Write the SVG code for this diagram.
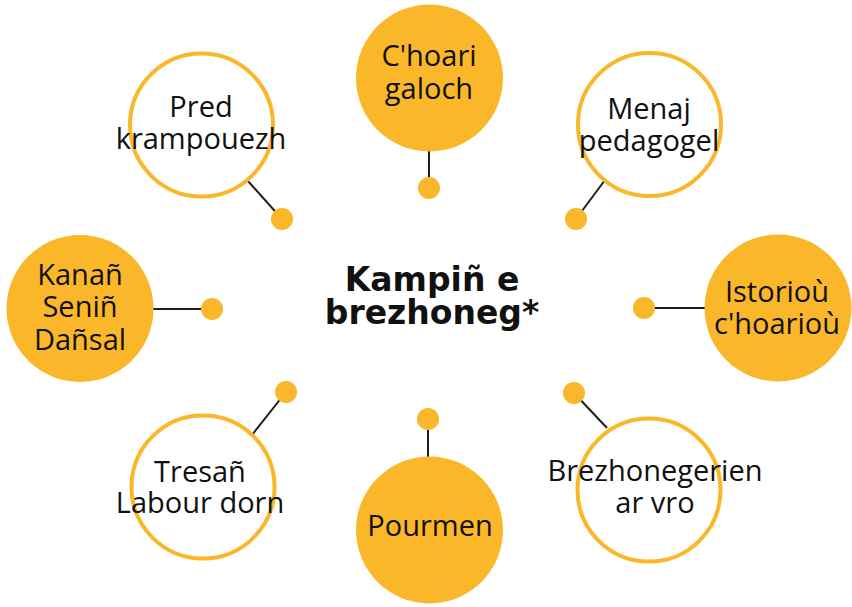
<svg xmlns="http://www.w3.org/2000/svg" width="852" height="607" viewBox="0 0 852 607">
<style>
.fill{fill:#FBB72A;}
.ring{fill:#fff;stroke:#FBB72A;stroke-width:4;}
.dot{fill:#FBB72A;}
.conn line{stroke:#1e1e1e;stroke-width:2;}
.lbl{font-family:"Open Sans","Noto Sans","Liberation Sans",sans-serif;font-size:29px;fill:#111;text-anchor:middle;}
.title{font-family:"DejaVu Sans","Liberation Sans",sans-serif;font-weight:bold;font-size:33px;fill:#111;text-anchor:middle;}
</style>
<rect width="852" height="607" fill="#fff"/>
<g id="connectors" class="conn">
<line x1="429" y1="150" x2="429" y2="188"/>
<line x1="605" y1="180" x2="576" y2="219"/>
<line x1="247" y1="180" x2="282" y2="219"/>
<line x1="152" y1="309" x2="212" y2="309"/>
<line x1="644" y1="308" x2="706" y2="308"/>
<line x1="574" y1="393" x2="607" y2="428"/>
<line x1="428" y1="419" x2="428" y2="459"/>
<line x1="286" y1="392" x2="252" y2="435"/>
</g>
<g id="center">
<text class="title" x="432" y="291">Kampiñ e</text>
<text class="title" x="432" y="324">brezhoneg*</text>
</g>
<g id="node-choari">
<circle class="fill" cx="429.5" cy="78" r="73.5"/>
<circle class="dot" cx="429" cy="188" r="11"/>
<text class="lbl" x="429" y="66">C'hoari</text>
<text class="lbl" x="429" y="99">galoch</text>
</g>
<g id="node-menaj">
<circle class="ring" cx="649.5" cy="124.5" r="71.5"/>
<circle class="dot" cx="576" cy="219" r="11"/>
<text class="lbl" x="649" y="119">Menaj</text>
<text class="lbl" x="649" y="151">pedagogel</text>
</g>
<g id="node-istoriou">
<circle class="fill" cx="778" cy="308" r="73.5"/>
<circle class="dot" cx="644" cy="308" r="11"/>
<text class="lbl" x="777" y="302">Istorioù</text>
<text class="lbl" x="777" y="334">c'hoarioù</text>
</g>
<g id="node-brezhonegerien">
<circle class="ring" cx="649" cy="490" r="71.5"/>
<circle class="dot" cx="574" cy="393" r="11"/>
<text class="lbl" x="655" y="481">Brezhonegerien</text>
<text class="lbl" x="655" y="513">ar vro</text>
</g>
<g id="node-pourmen">
<circle class="fill" cx="429.5" cy="530" r="73.5"/>
<circle class="dot" cx="428" cy="419" r="11"/>
<text class="lbl" x="430" y="536">Pourmen</text>
</g>
<g id="node-tresan">
<circle class="ring" cx="203" cy="487" r="71.5"/>
<circle class="dot" cx="286" cy="392" r="11"/>
<text class="lbl" x="200" y="482">Tresañ</text>
<text class="lbl" x="200" y="513">Labour dorn</text>
</g>
<g id="node-kanan">
<circle class="fill" cx="80" cy="308.5" r="73.5"/>
<circle class="dot" cx="212" cy="309" r="11"/>
<text class="lbl" x="80" y="285">Kanañ</text>
<text class="lbl" x="80" y="317">Seniñ</text>
<text class="lbl" x="80" y="350">Dañsal</text>
</g>
<g id="node-pred">
<circle class="ring" cx="201.5" cy="125" r="71.5"/>
<circle class="dot" cx="282" cy="219" r="11"/>
<text class="lbl" x="201" y="117">Pred</text>
<text class="lbl" x="201" y="149">krampouezh</text>
</g>
</svg>
